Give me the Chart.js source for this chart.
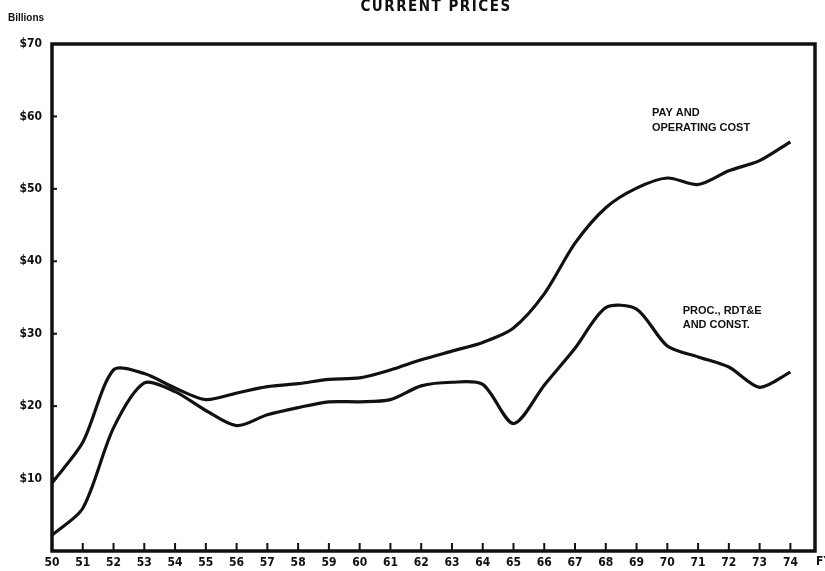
<!DOCTYPE html>
<html>
<head>
<meta charset="utf-8">
<script src="https://cdn.jsdelivr.net/npm/chart.js"></script>
<style>
html, body { margin: 0; padding: 0; background: #fff; }
#wrap { width: 825px; height: 571px; }
</style>
</head>
<body>
<div id="wrap"><canvas id="chart"></canvas></div>
<script>
// fiscal years (FY 1950 - 1974)
const years = [50, 51, 52, 53, 54, 55, 56, 57, 58, 59, 60, 61, 62, 63, 64, 65, 66, 67, 68, 69, 70, 71, 72, 73, 74];

// $ billions, current prices
const payOperating = [9.4, 15.0, 25.0, 24.5, 22.5, 20.9, 21.8, 22.7, 23.1, 23.7, 23.9, 25.0, 26.4, 27.6, 28.8, 30.8, 35.5, 42.5, 47.4, 50.1, 51.5, 50.6, 52.5, 53.9, 56.5];
const procurement = [2.2, 5.9, 17.0, 23.2, 22.0, 19.4, 17.3, 18.8, 19.8, 20.6, 20.6, 20.9, 22.8, 23.3, 23.0, 17.6, 22.9, 28.0, 33.6, 33.4, 28.3, 26.8, 25.4, 22.6, 24.7];

const yTicks = [10, 20, 30, 40, 50, 60, 70];
const xMax = 74.8;

const narrow = "'Liberation Sans Narrow', 'DejaVu Sans Condensed', sans-serif";
const ink = '#111';

// frame, inner tick marks and the hand lettering
const decor = {
    id: 'decor',
    afterDraw(chart) {
        const { ctx, chartArea: a, scales: { x, y } } = chart;
        ctx.save();
        ctx.strokeStyle = ink;
        ctx.fillStyle = ink;

        // little tick marks pointing into the plot
        ctx.lineWidth = 2;
        years.slice(1).forEach(v => {
            const px = x.getPixelForValue(v);
            ctx.beginPath();
            ctx.moveTo(px, a.bottom);
            ctx.lineTo(px, a.bottom - 8);
            ctx.stroke();
        });
        yTicks.forEach(v => {
            const py = y.getPixelForValue(v);
            ctx.beginPath();
            ctx.moveTo(a.left, py);
            ctx.lineTo(a.left + 5, py);
            ctx.stroke();
        });

        // heavy frame
        ctx.lineWidth = 3.5;
        ctx.strokeRect(a.left, a.top, a.right - a.left, a.bottom - a.top);

        // FY at the end of the year axis
        ctx.font = 'bold 12px ' + narrow;
        ctx.textAlign = 'left';
        ctx.textBaseline = 'middle';
        ctx.fillText('FY', a.right + 1, a.bottom + 11);

        // unit label and title
        ctx.font = 'bold 10px "Liberation Sans", sans-serif';
        ctx.fillText('Billions', 8, 18);

        ctx.font = 'bold 15px ' + narrow;
        ctx.textAlign = 'center';
        ctx.textBaseline = 'alphabetic';
        ctx.letterSpacing = '1.5px';
        ctx.fillText('CURRENT PRICES', 436, 11);
        ctx.letterSpacing = '0px';

        // series labels
        ctx.font = 'bold 11px "Liberation Sans", sans-serif';
        ctx.textAlign = 'left';
        ctx.textBaseline = 'middle';
        ctx.fillText('PAY AND', x.getPixelForValue(69.5), y.getPixelForValue(60.5));
        ctx.fillText('OPERATING COST', x.getPixelForValue(69.5), y.getPixelForValue(58.4));
        ctx.fillText('PROC., RDT&E', x.getPixelForValue(70.5), y.getPixelForValue(33.1));
        ctx.fillText('AND CONST.', x.getPixelForValue(70.5), y.getPixelForValue(31.2));
        ctx.restore();
    }
};

function lineSet(label, values) {
    return {
        label: label,
        data: years.map((yr, i) => ({ x: yr, y: values[i] })),
        borderColor: ink,
        borderWidth: 3.2,
        pointRadius: 0,
        tension: 0.28,
        fill: false
    };
}

new Chart(document.getElementById('chart'), {
    type: 'line',
    data: {
        datasets: [
            lineSet('Pay and operating cost', payOperating),
            lineSet('Proc., RDT&E and const.', procurement)
        ]
    },
    options: {
        responsive: true,
        maintainAspectRatio: false,
        animation: false,
        layout: { padding: { top: 44, right: 10, left: 0, bottom: 0 } },
        plugins: {
            legend: { display: false },
            tooltip: { enabled: false }
        },
        scales: {
            x: {
                type: 'linear',
                min: 50,
                max: xMax,
                afterBuildTicks: axis => { axis.ticks = years.map(v => ({ value: v })); },
                afterFit: axis => { axis.height = 20; },
                grid: { display: false, drawTicks: false },
                border: { display: false },
                ticks: {
                    padding: 5,
                    autoSkip: false,
                    maxRotation: 0,
                    color: ink,
                    font: { family: narrow, weight: 'bold', size: 12 },
                    callback: v => String(v)
                }
            },
            y: {
                min: 0,
                max: 70,
                afterBuildTicks: axis => { axis.ticks = yTicks.map(v => ({ value: v })); },
                afterFit: axis => { axis.width = 52; },
                grid: { display: false, drawTicks: false },
                border: { display: false },
                ticks: {
                    padding: 10,
                    color: ink,
                    font: { family: narrow, weight: 'bold', size: 12 },
                    callback: v => '$' + v
                }
            }
        }
    },
    plugins: [decor]
});
</script>
</body>
</html>
